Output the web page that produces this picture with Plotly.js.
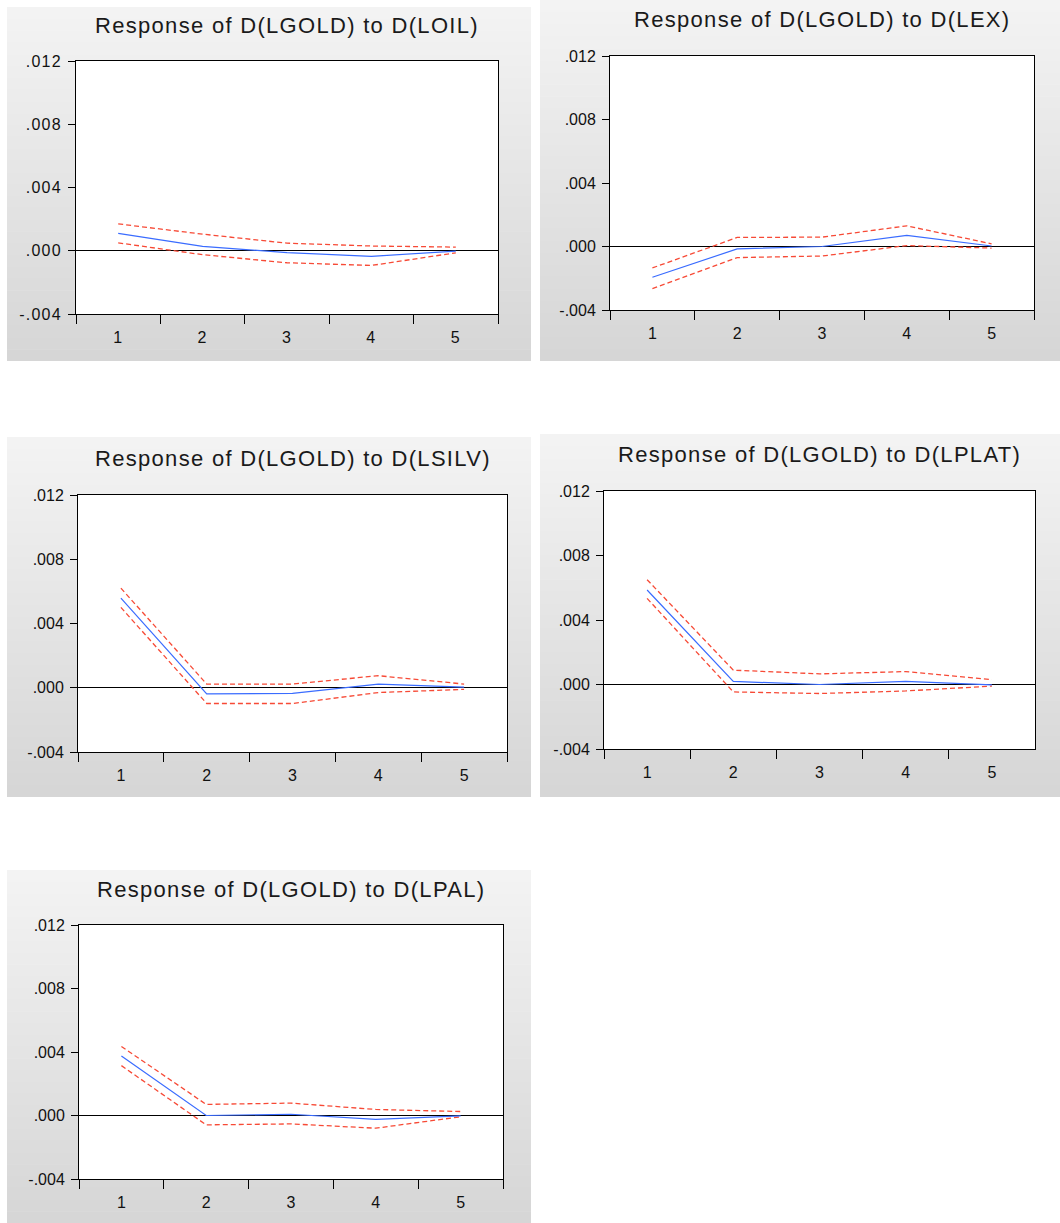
<!DOCTYPE html>
<html>
<head>
<meta charset="utf-8">
<script src="https://cdn.plot.ly/plotly-3.0.1.min.js"></script>
<style>
html, body { margin: 0; padding: 0; background: #ffffff; }
#chart { width: 1060px; height: 1223px; }
.xtick text, .ytick text { letter-spacing: 1.2px; }
.annotation-text { letter-spacing: 1.3px; }
</style>
</head>
<body>
<div id="chart"></div>
<script>
// ---------------- DATA ----------------
const periods = ['1', '2', '3', '4', '5'];
const titles = [
  'Response of D(LGOLD) to D(LOIL)',
  'Response of D(LGOLD) to D(LEX)',
  'Response of D(LGOLD) to D(LSILV)',
  'Response of D(LGOLD) to D(LPLAT)',
  'Response of D(LGOLD) to D(LPAL)'
];
const yTickVals = [-0.004, 0.000, 0.004, 0.008, 0.012];
const yTickText = ['-.004', '.000', '.004', '.008', '.012'];

// D(LOIL)
const respOil  = [0.00110, 0.00028, -0.00012, -0.00035, -0.00002];
const upperOil = [0.00170, 0.00105, 0.00048, 0.00030, 0.00023];
const lowerOil = [0.00050, -0.00025, -0.00076, -0.00093, -0.00013];
// D(LEX)
const respEx  = [-0.00194, -0.00015, 0.00000, 0.00070, 0.00003];
const upperEx = [-0.00135, 0.00057, 0.00059, 0.00130, 0.00017];
const lowerEx = [-0.00265, -0.00070, -0.00060, 0.00006, -0.00010];
// D(LSILV)
const respSilv  = [0.00558, -0.00038, -0.00035, 0.00023, 0.00004];
const upperSilv = [0.00620, 0.00023, 0.00023, 0.00075, 0.00023];
const lowerSilv = [0.00500, -0.00098, -0.00098, -0.00030, -0.00010];
// D(LPLAT)
const respPlat  = [0.00586, 0.00019, 0.00000, 0.00019, -0.00002];
const upperPlat = [0.00650, 0.00089, 0.00066, 0.00080, 0.00030];
const lowerPlat = [0.00534, -0.00046, -0.00056, -0.00040, -0.00010];
// D(LPAL)
const respPal  = [0.00375, 0.00000, 0.00008, -0.00025, -0.00002];
const upperPal = [0.00435, 0.00070, 0.00078, 0.00038, 0.00025];
const lowerPal = [0.00314, -0.00059, -0.00053, -0.00080, -0.00008];

const responses = [respOil, respEx, respSilv, respPlat, respPal];
const uppers = [upperOil, upperEx, upperSilv, upperPlat, upperPal];
const lowers = [lowerOil, lowerEx, lowerSilv, lowerPlat, lowerPal];

// ---------------- LAYOUT GEOMETRY (pixels) ----------------
const W = 1060, H = 1223;
const panels = [
  { bx0: 7,   bx1: 531,  by0: 7,   by1: 361,  px0: 76,  px1: 498,  py0: 61,  py1: 314,  ty: 25 },
  { bx0: 540, bx1: 1060, by0: 0,   by1: 361,  px0: 610, px1: 1034, py0: 56,  py1: 310,  ty: 20 },
  { bx0: 7,   bx1: 531,  by0: 437, by1: 797,  px0: 78,  px1: 507,  py0: 495, py1: 752,  ty: 458 },
  { bx0: 540, bx1: 1060, by0: 434, by1: 797,  px0: 604, px1: 1035, py0: 491, py1: 749,  ty: 454 },
  { bx0: 7,   bx1: 531,  by0: 870, by1: 1223, px0: 79,  px1: 503,  py0: 925, py1: 1179, ty: 889 }
];
const fx = p => p / W;
const fy = p => 1 - p / H;

const FONT = '"Liberation Sans", Arial, sans-serif';
const BLUE = '#3a6cff';
const RED = '#f74a36';

const data = [];
const layout = {
  width: W, height: H,
  margin: { l: 0, r: 0, t: 0, b: 0, pad: 0 },
  paper_bgcolor: '#ffffff',
  plot_bgcolor: '#ffffff',
  showlegend: false,
  font: { family: FONT, size: 16, color: '#111111' },
  shapes: [],
  annotations: []
};

panels.forEach((p, i) => {
  const n = i + 1;
  const xa = 'x' + (n === 1 ? '' : n);
  const ya = 'y' + (n === 1 ? '' : n);
  const xKey = 'xaxis' + (n === 1 ? '' : n);
  const yKey = 'yaxis' + (n === 1 ? '' : n);

  // gradient grey panel background
  const N = 30;
  const h = p.by1 - p.by0;
  for (let k = 0; k < N; k++) {
    const c = Math.round(243 - (243 - 214) * (k + 0.5) / N);
    layout.shapes.push({
      type: 'rect', xref: 'paper', yref: 'paper', layer: 'below',
      x0: fx(p.bx0), x1: fx(p.bx1),
      y0: fy(p.by0 + h * k / N), y1: fy(Math.min(p.by1, p.by0 + h * (k + 1) / N + 0.6)),
      fillcolor: `rgb(${c},${c},${c})`, line: { width: 0 }
    });
  }
  // white plotting area
  layout.shapes.push({
    type: 'rect', xref: xa + ' domain', yref: ya + ' domain', layer: 'below',
    x0: 0, x1: 1, y0: 0, y1: 1, fillcolor: '#ffffff', line: { width: 0 }
  });

  layout[xKey] = {
    domain: [fx(p.px0), fx(p.px1)],
    anchor: ya,
    type: 'category',
    categoryorder: 'array',
    categoryarray: periods,
    range: [-0.5, periods.length - 0.5],
    tickson: 'boundaries',
    ticks: 'outside', ticklen: 9, tickwidth: 1, tickcolor: '#000000',
    ticklabelstandoff: 9,
    showline: true, mirror: true, linecolor: '#000000', linewidth: 1,
    showgrid: false, zeroline: false, fixedrange: true,
    tickfont: { family: FONT, size: 16, color: '#111111' }
  };
  layout[yKey] = {
    domain: [fy(p.py1), fy(p.py0)],
    anchor: xa,
    range: [-0.004, 0.012],
    tickmode: 'array', tickvals: yTickVals, ticktext: yTickText,
    ticks: 'outside', ticklen: 7, tickwidth: 1, tickcolor: '#000000',
    ticklabelstandoff: 3,
    showline: true, mirror: true, linecolor: '#000000', linewidth: 1,
    showgrid: false,
    zeroline: true, zerolinecolor: '#000000', zerolinewidth: 1,
    fixedrange: true,
    tickfont: { family: FONT, size: 16, color: '#111111' }
  };

  layout.annotations.push({
    text: titles[i], xref: 'paper', yref: 'paper',
    x: fx((p.px0 + p.px1) / 2), y: fy(p.ty),
    xanchor: 'center', yanchor: 'middle', showarrow: false,
    font: { family: FONT, size: 22, color: '#1a1a1a' }
  });

  data.push({
    type: 'scatter', mode: 'lines', x: periods, y: uppers[i],
    xaxis: xa, yaxis: ya, hoverinfo: 'skip',
    line: { color: RED, width: 1.3, dash: '5px,3px' }
  });
  data.push({
    type: 'scatter', mode: 'lines', x: periods, y: lowers[i],
    xaxis: xa, yaxis: ya, hoverinfo: 'skip',
    line: { color: RED, width: 1.3, dash: '5px,3px' }
  });
  data.push({
    type: 'scatter', mode: 'lines', x: periods, y: responses[i],
    xaxis: xa, yaxis: ya, hoverinfo: 'skip',
    line: { color: BLUE, width: 1.2 }
  });
});

Plotly.newPlot('chart', data, layout, { staticPlot: true, displayModeBar: false });
</script>
</body>
</html>
